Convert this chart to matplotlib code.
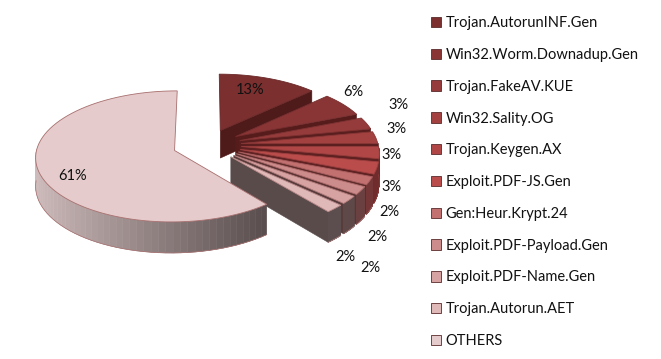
import numpy as np
import matplotlib
matplotlib.use('Agg')
import matplotlib.pyplot as plt
from matplotlib.patches import Polygon, Patch

# Data
labels = ['Trojan.AutorunINF.Gen', 'Win32.Worm.Downadup.Gen', 'Trojan.FakeAV.KUE', 'Win32.Sality.OG',
          'Trojan.Keygen.AX', 'Exploit.PDF-JS.Gen', 'Gen:Heur.Krypt.24', 'Exploit.PDF-Payload.Gen',
          'Exploit.PDF-Name.Gen', 'Trojan.Autorun.AET', 'OTHERS']
values = [13, 6, 3, 3, 3, 3, 2, 2, 2, 2, 61]
colors = ['#7b2f2f', '#893535', '#963b3b', '#a34040', '#b04646', '#bb4c4c',
          '#c27070', '#cd8c8c', '#d6a2a2', '#dfb8b8', '#e5cbcb']
wall_colors = ['#4f1a1a', '#561c1c', '#5a1e1e', '#5c1f1f', '#5e2020', '#602222',
               '#5f2c2c', '#5c3434', '#583c3c', '#5a4b4b', '#5a4b4b']
rim_colors = ['#4f1a1a', '#561c1c', '#5a1e1e', '#5c1f1f', '#6e2828', '#702c2c',
              '#743636', '#6a4040', '#5e4848', '#5c4e4e', '#5c4e4e']
edge_colors = ['#6a2828', '#762e2e', '#7e3232', '#883636', '#943c3c', '#9e4040',
               '#a85e5e', '#b06c6c', '#b47c7c', '#b88888', '#a86e6e']
pct_labels = ['13%', '6%', '3%', '3%', '3%', '3%', '2%', '2%', '2%', '2%', '61%']

# Layout in pixels
label_xy = [(250, 90), (353, 92), (398, 105), (396, 129), (391, 155), (391, 187),
            (389, 212), (377, 237), (345, 257), (370, 268), (73, 176)]
cx, cy = 207, 145
sx, sy = 137, 64
persp = 0.09
depth = 28
explode = 0.25

plt.rcParams['font.family'] = ['Lato', 'DejaVu Sans']

fig = plt.figure(figsize=(6.61, 3.59), dpi=100)
ax = fig.add_axes([0, 0, 1, 1])
ax.set_xlim(0, 661)
ax.set_ylim(359, 0)
ax.axis('off')


def project(u, v, down=0.0):
  # perspective from pie plane to pixels, angle clockwise from the top
  w = 1 + persp * v
  return cx + sx * u / w, cy - sy * v / w + down / w


def rim_point(a, off, r=1.0):
  return off[0] + r * np.sin(a), off[1] + r * np.cos(a)


fractions = np.cumsum([0] + values) / float(sum(values)) * 2 * np.pi

for i in range(len(values)):
  a0, a1 = fractions[i], fractions[i + 1]
  mid = (a0 + a1) / 2
  off = (explode * np.sin(mid), explode * np.cos(mid))
  arc = np.linspace(a0, a1, 80)
  au, av = rim_point(arc, off)

  # radial wall on the clockwise side
  if i < len(values) - 1:
    eu, ev = rim_point(a1, off)
    wall = [project(off[0], off[1]), project(eu, ev), project(eu, ev, depth), project(off[0], off[1], depth)]
    ax.add_patch(Polygon(wall, closed=True, facecolor=wall_colors[i], edgecolor=wall_colors[i], linewidth=0.4))

  # outer rim, only the part facing the viewer
  for j in range(len(arc) - 1):
    if np.cos((arc[j] + arc[j + 1]) / 2) > 0:
      continue
    quad = [project(au[j], av[j]), project(au[j + 1], av[j + 1]),
            project(au[j + 1], av[j + 1], depth), project(au[j], av[j], depth)]
    if i == len(values) - 1:
      # OTHERS rim fades from light at the left to dark at the right
      t = np.clip((quad[0][0] - 36) / 230.0, 0, 1)
      c0 = np.array([0xcd, 0xba, 0xba]) / 255.0
      c1 = np.array([0x5a, 0x4e, 0x4e]) / 255.0
      col = tuple(c0 + (c1 - c0) * t)
    else:
      col = rim_colors[i]
    ax.add_patch(Polygon(quad, closed=True, facecolor=col, edgecolor=col, linewidth=0.4))
  if i == len(values) - 1 or a1 > np.pi / 2:
    bottom = [project(u, v, depth) for u, v in zip(au, av) if v < off[1]]
    if bottom:
      bx, by = zip(*bottom)
      ax.plot(bx, by, color=edge_colors[i], linewidth=0.5)

  # top face
  top = [project(off[0], off[1])] + [project(u, v) for u, v in zip(au, av)]
  ax.add_patch(Polygon(top, closed=True, facecolor=colors[i], edgecolor=edge_colors[i], linewidth=0.6))

for txt, (tx, ty) in zip(pct_labels, label_xy):
  ax.text(tx, ty, txt, fontsize=10.5, color='#111111', ha='center', va='center')

handles = [Patch(facecolor=c, edgecolor='#5a2a2a', linewidth=0.6) for c in colors]
ax.legend(handles, labels, loc='upper left', bbox_to_anchor=(0.652, 0.955), frameon=False, fontsize=10.5,
          handlelength=0.72, handleheight=0.72, handletextpad=0.3, labelspacing=1.22, borderpad=0, borderaxespad=0,
          labelcolor='#111111')

fig.savefig('out.png', dpi=100, facecolor='white')
